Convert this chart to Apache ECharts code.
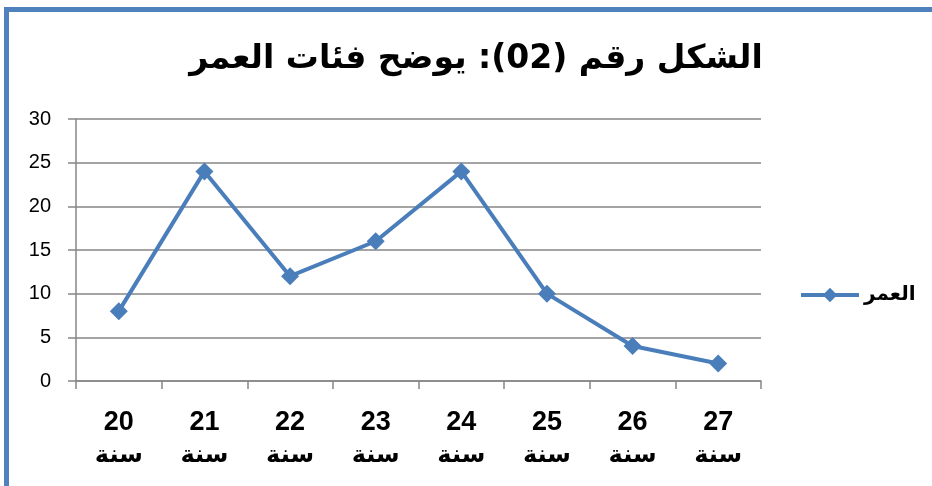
<!DOCTYPE html>
<html><head><meta charset="utf-8">
<script src="https://cdn.jsdelivr.net/npm/echarts@6/dist/echarts.min.js"></script>
<style>html,body{margin:0;padding:0;background:#fff}#c{width:932px;height:486px}</style>
</head><body><div id="c"></div>
<script>
const titleText = 'الشكل رقم (02): يوضح فئات العمر';
const seriesName = 'العمر';
const ageNumbers = ['20','21','22','23','24','25','26','27'];
const unitWord = 'سنة';
const values = [8, 24, 12, 16, 24, 10, 4, 2];
const yTicks = {min: 0, max: 30, interval: 5};

const categories = ageNumbers.map(n => n + '\n' + unitWord);
const chart = echarts.init(document.getElementById('c'));
chart.setOption({
  animation: false,
  backgroundColor: '#fff',
  title: {
    text: titleText, left: 471, top: 38, textAlign: 'center',
    textStyle: {fontFamily: 'DejaVu Sans', fontWeight: 'bold', fontSize: 33, color: '#000'}
  },
  legend: {
    data: [seriesName], left: 794, top: 280, itemWidth: 58, itemHeight: 18, itemGap: 4,
    lineStyle: {width: 4, color: '#4A7EBB'},
    textStyle: {fontFamily: 'DejaVu Sans', fontWeight: 'bold', fontSize: 20, color: '#000'}
  },
  grid: {left: 76, top: 119, width: 685, height: 262},
  xAxis: {
    type: 'category', data: categories, boundaryGap: true,
    axisLine: {lineStyle: {color: '#868686', width: 1.5}},
    axisTick: {show: true, length: 8, lineStyle: {color: '#868686', width: 1.5}},
    axisLabel: {
      margin: 25,
      formatter: v => { const p = v.split('\n'); return '{n|' + p[0] + '}\n{w|' + p[1] + '}'; },
      rich: {
        n: {fontFamily: 'Liberation Sans', fontWeight: 'bold', fontSize: 27, color: '#000', lineHeight: 33},
        w: {fontFamily: 'DejaVu Sans', fontWeight: 'bold', fontSize: 24, color: '#000', lineHeight: 33}
      }
    }
  },
  yAxis: {
    type: 'value', min: yTicks.min, max: yTicks.max, interval: yTicks.interval,
    axisLine: {show: true, lineStyle: {color: '#868686', width: 1.5}},
    axisTick: {show: true, length: 8, lineStyle: {color: '#868686', width: 1.5}},
    splitLine: {lineStyle: {color: '#868686', width: 1.5}},
    axisLabel: {margin: 25, fontFamily: 'Liberation Sans', fontSize: 20, color: '#000'}
  },
  series: [{
    name: seriesName, type: 'line', data: values,
    symbol: 'diamond', symbolSize: 18,
    lineStyle: {color: '#4A7EBB', width: 4},
    itemStyle: {color: '#4A7EBB'}
  }],
  graphic: [{
    type: 'rect', shape: {x: 6.5, y: 9.5, width: 1000, height: 1000},
    style: {fill: null, stroke: '#4F81BD', lineWidth: 5}, silent: true
  }]
});
</script></body></html>
